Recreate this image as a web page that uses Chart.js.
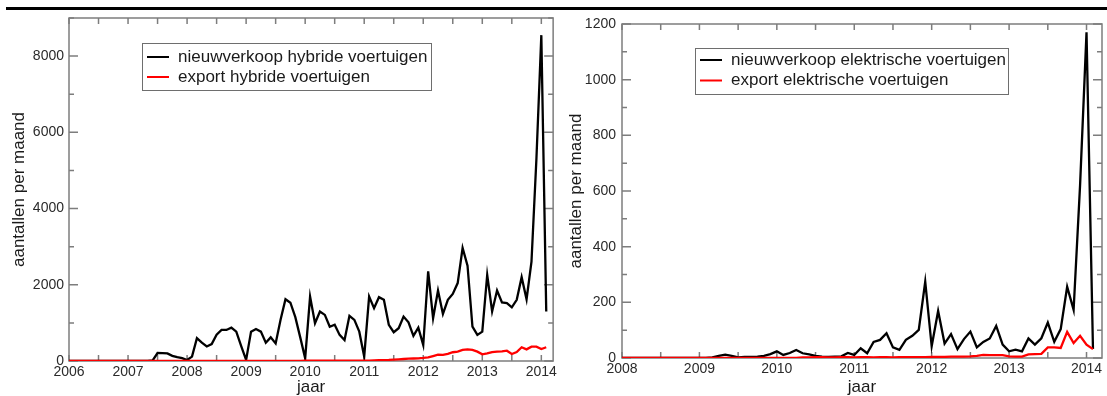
<!DOCTYPE html>
<html lang="nl">
<head>
<meta charset="UTF-8">
<title>Hybride en elektrische voertuigen per maand</title>
<script src="https://cdn.jsdelivr.net/npm/chart.js"></script>
<style>
  html, body { margin: 0; padding: 0; background: #fff; }
  #page { position: relative; width: 1107px; height: 396px; overflow: hidden; }
  #rule { position: absolute; left: 6px; top: 7px; width: 1101px; height: 3px; background: #000; }
  .box { position: absolute; top: 0; height: 396px; }
  #box1 { left: 0; width: 560px; }
  #box2 { left: 560px; width: 547px; }
</style>
</head>
<body>
<div id="page">
  <div id="rule"></div>
  <div class="box" id="box1"><canvas id="hybride"></canvas></div>
  <div class="box" id="box2"><canvas id="elektrisch"></canvas></div>
</div>

<script>
// maandcijfers, eerste waarde = januari van het startjaar
const hybrideStart = 2006;
const hybrideNieuw = [
  0, 0, 0, 0, 0, 0, 0, 0, 0, 0, 0, 0,
  0, 0, 0, 0, 0, 15, 210, 205, 200, 135, 100, 75,
  25, 115, 600, 480, 380, 445, 690, 815, 815, 875, 770, 390,
  30, 770, 840, 770, 480, 620, 460, 1080, 1620, 1530, 1150, 620,
  70, 1690, 990, 1300, 1210, 900, 950, 685, 550, 1185, 1080, 770,
  115, 1690, 1385, 1675, 1605, 950, 755, 860, 1165, 1017, 660, 877,
  420, 2350, 1120, 1850, 1235, 1605, 1760, 2045, 2965, 2500, 900, 685,
  770, 2260, 1300, 1850, 1535, 1520, 1410, 1605, 2200, 1620, 2610, 5300,
  8550, 1300
];
const hybrideExport = [
  0, 0, 0, 0, 0, 0, 0, 0, 0, 0, 0, 0,
  0, 0, 0, 0, 0, 0, 0, 0, 0, 0, 0, 0,
  5, 5, 5, 5, 5, 5, 5, 5, 5, 5, 5, 5,
  5, 5, 5, 5, 5, 5, 5, 5, 5, 5, 5, 5,
  8, 8, 8, 8, 8, 8, 8, 8, 8, 8, 8, 8,
  10, 12, 15, 20, 25, 30, 38, 45, 52, 60, 65, 70,
  80, 95, 130, 165, 160, 185, 230, 245, 290, 305, 290, 245,
  175, 200, 235, 245, 255, 270, 185, 235, 360, 305, 375, 375,
  315, 360
];
const hybrideYears = [2006, 2007, 2008, 2009, 2010, 2011, 2012, 2013, 2014];
const hybrideYTicks = [0, 2000, 4000, 6000, 8000];

const elektrischStart = 2008;
const elektrischNieuw = [
  0, 0, 0, 0, 0, 0, 0, 0, 0, 0, 0, 0,
  0, 0, 2, 8, 12, 8, 2, 4, 4, 5, 8, 14,
  24, 11, 18, 29, 17, 13, 8, 5, 4, 5, 6, 18,
  11, 35, 17, 58, 65, 89, 38, 29, 65, 80, 101, 274,
  42, 169, 52, 86, 32, 68, 95, 38, 58, 70, 115, 48,
  24, 30, 24, 70, 48, 71, 127, 58, 104, 256, 173, 620,
  1170, 32
];
const elektrischExport = [
  0, 0, 0, 0, 0, 0, 0, 0, 0, 0, 0, 0,
  0, 0, 0, 0, 0, 0, 0, 0, 0, 0, 0, 0,
  0, 0, 0, 0, 2, 2, 3, 3, 2, 2, 3, 3,
  2, 3, 3, 2, 3, 3, 2, 3, 3, 3, 3, 3,
  4, 4, 4, 5, 5, 5, 6, 8, 11, 10, 10, 10,
  6, 5, 5, 13, 14, 15, 38, 38, 36, 94, 54, 80,
  48, 32
];
const elektrischYears = [2008, 2009, 2010, 2011, 2012, 2013, 2014];
const elektrischYTicks = [0, 200, 400, 600, 800, 1000, 1200];

const fontFamily = '"Liberation Sans", Arial, Helvetica, sans-serif';
Chart.defaults.font.family = fontFamily;
Chart.defaults.color = '#2a2a2a';

const toPoints = (start, values) => values.map((v, i) => ({ x: start + i / 12, y: v }));

// kader met tickjes aan alle vier de kanten, naar binnen gericht
const frame = {
  id: 'frame',
  beforeDatasetsDraw(chart, args, o) {
    const { ctx, chartArea: a, scales: { x, y } } = chart;
    ctx.save();
    ctx.strokeStyle = '#7d7d7d';
    ctx.lineWidth = 1.5;
    ctx.beginPath();
    for (let v = x.min; v <= x.max + 1e-9; v += o.xStep) {
      const p = x.getPixelForValue(v);
      ctx.moveTo(p, a.bottom); ctx.lineTo(p, a.bottom - o.xLen);
      ctx.moveTo(p, a.top); ctx.lineTo(p, a.top + o.xLen);
    }
    for (let v = y.min; v <= y.max + 1e-9; v += o.yStep) {
      const p = y.getPixelForValue(v);
      const len = v % o.yMajor === 0 ? o.major : o.minor;
      ctx.moveTo(a.left, p); ctx.lineTo(a.left + len, p);
      ctx.moveTo(a.right, p); ctx.lineTo(a.right - len, p);
    }
    ctx.stroke();
    ctx.strokeRect(a.left, a.top, a.width, a.height);
    ctx.restore();
  }
};

// legenda in een kader binnen het plotvlak
const boxLegend = {
  id: 'boxLegend',
  afterDraw(chart, args, o) {
    const { ctx } = chart;
    ctx.save();
    ctx.fillStyle = '#fff';
    ctx.fillRect(o.left, o.top, o.width, o.height);
    ctx.strokeStyle = '#6e6e6e';
    ctx.lineWidth = 1;
    ctx.strokeRect(o.left + 0.5, o.top + 0.5, o.width, o.height);
    ctx.font = '17px ' + fontFamily;
    ctx.textBaseline = 'middle';
    chart.data.datasets.forEach((ds, i) => {
      const yy = o.top + o.firstRow + i * o.rowGap;
      ctx.strokeStyle = ds.borderColor;
      ctx.lineWidth = 2;
      ctx.beginPath();
      ctx.moveTo(o.left + 5, yy);
      ctx.lineTo(o.left + 27, yy);
      ctx.stroke();
      ctx.fillStyle = '#1a1a1a';
      ctx.fillText(ds.label, o.left + 36, yy);
    });
    ctx.restore();
  }
};

function makeChart(id, s) {
  return new Chart(document.getElementById(id), {
    type: 'line',
    data: {
      datasets: [
        { label: s.labels[0], data: toPoints(s.start, s.nieuw), borderColor: '#000', borderWidth: 2.3, order: 1 },
        { label: s.labels[1], data: toPoints(s.start, s.exp), borderColor: '#ff0000', borderWidth: 2.3, order: 0 }
      ]
    },
    options: {
      responsive: true,
      maintainAspectRatio: false,
      animation: false,
      elements: { point: { radius: 0 }, line: { tension: 0 } },
      layout: { padding: { top: s.padTop, right: s.padRight, left: 0, bottom: 0 } },
      plugins: {
        legend: { display: false },
        tooltip: { enabled: false },
        frame: s.frame,
        boxLegend: s.legend
      },
      scales: {
        x: {
          type: 'linear',
          min: s.start,
          max: 2014.2,
          grid: { display: false, drawTicks: false },
          border: { display: false },
          afterBuildTicks: sc => { sc.ticks = s.years.map(v => ({ value: v })); },
          afterFit: sc => { sc.height = s.xHeight; },
          ticks: { padding: 3, autoSkip: false, maxRotation: 0, font: { size: 14 }, callback: v => String(v) },
          title: { display: true, text: 'jaar', color: '#1a1a1a', font: { size: 17, lineHeight: 1 }, padding: { top: 0, bottom: 0 } }
        },
        y: {
          type: 'linear',
          min: 0,
          max: s.yMax,
          grid: { display: false, drawTicks: false },
          border: { display: false },
          afterBuildTicks: sc => { sc.ticks = s.yTicks.map(v => ({ value: v })); },
          afterFit: sc => { sc.width = s.yWidth; },
          ticks: { padding: s.yPad, font: { size: 14 }, callback: v => String(v) },
          title: { display: true, text: 'aantallen per maand', color: '#1a1a1a', font: { size: 17, lineHeight: 1 }, padding: { top: s.yTitlePad, bottom: 0 } }
        }
      }
    },
    plugins: [frame, boxLegend]
  });
}

makeChart('hybride', {
  start: hybrideStart, nieuw: hybrideNieuw, exp: hybrideExport,
  years: hybrideYears, yTicks: hybrideYTicks, yMax: 9000,
  labels: ['nieuwverkoop hybride voertuigen', 'export hybride voertuigen'],
  padTop: 18, padRight: 4, xHeight: 35, yWidth: 69, yPad: 5, yTitlePad: 11,
  frame: { xStep: 0.5, xLen: 6, yStep: 1000, yMajor: 2000, major: 9, minor: 5 },
  legend: { left: 142, top: 43, width: 289, height: 47, firstRow: 14, rowGap: 20 }
});

makeChart('elektrisch', {
  start: elektrischStart, nieuw: elektrischNieuw, exp: elektrischExport,
  years: elektrischYears, yTicks: elektrischYTicks, yMax: 1200,
  labels: ['nieuwverkoop elektrische voertuigen', 'export elektrische voertuigen'],
  padTop: 24, padRight: 5, xHeight: 38, yWidth: 62, yPad: 6, yTitlePad: 8,
  frame: { xStep: 0.5, xLen: 6, yStep: 100, yMajor: 200, major: 9, minor: 5 },
  legend: { left: 135, top: 48, width: 313, height: 46, firstRow: 12, rowGap: 20.5 }
});
</script>
</body>
</html>
